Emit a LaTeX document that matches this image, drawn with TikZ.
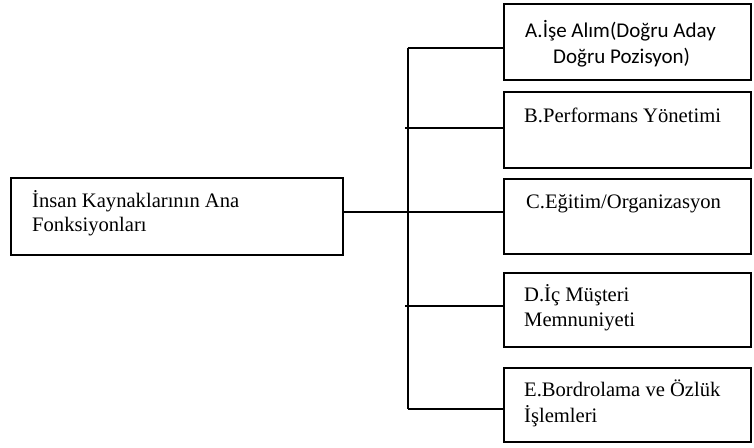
\documentclass[tikz,border=0pt]{standalone}
\usepackage{fontspec}
\setmainfont{Liberation Serif}
\newfontfamily\calibrifont{Carlito}
\begin{document}
\begin{tikzpicture}[x=1pt,y=-1pt,
  box/.style={draw,line width=2pt,inner sep=0pt,rectangle},
  lbl/.style={anchor=base west,inner sep=0pt,font=\fontsize{20.6}{24}\selectfont},
  cal/.style={font=\calibrifont\fontsize{21}{25}\selectfont},
  link/.style={line width=2pt}]
\useasboundingbox (0,0) rectangle (754,447);

% boxes
\node[box,minimum width=332pt,minimum height=77pt] (L) at (177,216.5) {};
\node[box,minimum width=247pt,minimum height=76pt] (A) at (627.5,42) {};
\node[box,minimum width=247pt,minimum height=76pt] (B) at (627.5,130) {};
\node[box,minimum width=247pt,minimum height=75pt] (C) at (627.5,216.5) {};
\node[box,minimum width=247pt,minimum height=74pt] (D) at (627.5,310) {};
\node[box,minimum width=247pt,minimum height=74pt] (E) at (627.5,405) {};

% texts
\node[lbl] (tL1) at (32,207.7) {İnsan Kaynaklarının Ana};
\node[lbl] (tL2) at (32,231.7) {Fonksiyonları};
\node[lbl,cal] (tA1) at (525,37.3) {A.İşe Alım(Doğru Aday};
\node[lbl,cal] (tA2) at (553,63.3) {Doğru Pozisyon)};
\node[lbl] (tB) at (524,122.3) {B.Performans Yönetimi};
\node[lbl] (tC) at (526,208.3) {C.Eğitim/Organizasyon};
\node[lbl] (tD1) at (524,301.7) {D.İç Müşteri};
\node[lbl] (tD2) at (524,326.7) {Memnuniyeti};
\node[lbl] (tE1) at (524,396.7) {E.Bordrolama ve Özlük};
\node[lbl] (tE2) at (524,422.7) {İşlemleri};

% trunk
\coordinate (tTop) at (407.5,48);
\coordinate (tBot) at (407.5,409);
\draw[link] (tTop) -- (tBot);

% branches
\draw[link] (L.east |- 0,211.7) -- ([xshift=2pt]C.west |- 0,211.7);
\draw[link] (tTop) -- (A.west |- tTop);
\draw[link] (405,128) coordinate (bB) -- (B.west |- bB);
\draw[link] (405,306) coordinate (bD) -- (D.west |- bD);
\draw[link] (tBot) -- ([xshift=2pt]E.west |- tBot);
\end{tikzpicture}
\end{document}
